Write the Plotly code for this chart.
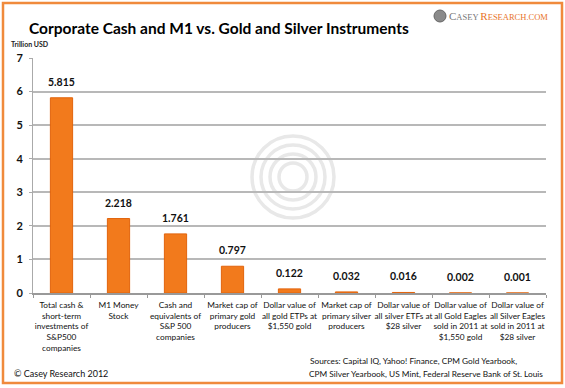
import plotly.graph_objects as go

categories = [
    "Total cash &amp;<br>short-term<br>investments of<br>S&amp;P500<br>companies",
    "M1 Money<br>Stock",
    "Cash and<br>equivalents of<br>S&amp;P 500<br>companies",
    "Market cap of<br>primary gold<br>producers",
    "Dollar value of<br>all gold ETPs at<br>$1,550 gold",
    "Market cap of<br>primary silver<br>producers",
    "Dollar value of<br>all silver ETFs at<br>$28 silver",
    "Dollar value of<br>all Gold Eagles<br>sold in 2011 at<br>$1,550 gold",
    "Dollar value of<br>all Silver Eagles<br>sold in 2011 at<br>$28 silver",
]
values = [5.815, 2.218, 1.761, 0.797, 0.122, 0.032, 0.016, 0.002, 0.001]
value_labels = ["5.815", "2.218", "1.761", "0.797", "0.122", "0.032", "0.016", "0.002", "0.001"]
y_ticks = [0, 1, 2, 3, 4, 5, 6, 7]
source_lines = [
    "Sources: Capital IQ, Yahoo! Finance, CPM Gold Yearbook,",
    "CPM Silver Yearbook, US Mint, Federal Reserve Bank of St. Louis",
]

W, H = 565, 388
L, R, T, B = 33, 19, 58, 95
pw, ph = W - L - R, H - T - B

def px(x):
    return (x - L) / pw

def py(y):
    return (H - B - y) / ph

FONT = "Lato"

fig = go.Figure()
fig.add_trace(go.Bar(
    x=list(range(len(categories))),
    y=values,
    marker=dict(color="#f27a1c", line=dict(color="#e2640c", width=1)),
    hoverinfo="skip",
))

annotations = []
for i, (v, t) in enumerate(zip(values, value_labels)):
    annotations.append(dict(x=i, y=v, xref="x", yref="y", text="<b>%s</b>" % t,
                            showarrow=False, yanchor="bottom", yshift=8,
                            font=dict(family=FONT, size=10.5, color="#111")))

annotations += [
    dict(x=px(219), y=py(28), xref="paper", yref="paper",
         text="<b>Corporate Cash and M1 vs. Gold and Silver Instruments</b>",
         showarrow=False, xanchor="center", yanchor="middle",
         font=dict(family=FONT, size=15.5, color="#000")),
    dict(x=px(9), y=py(44), xref="paper", yref="paper", text="<b>Trillion USD</b>",
         showarrow=False, xanchor="left", yanchor="middle",
         font=dict(family=FONT, size=7, color="#222")),
    dict(x=px(12), y=py(373), xref="paper", yref="paper", text="© Casey Research 2012",
         showarrow=False, xanchor="left", yanchor="middle",
         font=dict(family=FONT, size=9, color="#111")),
    dict(x=px(447), y=py(16), xref="paper", yref="paper",
         text="<span style='color:#777'><span style='font-size:11px'>C</span>ASEY</span> <span style='color:#e8742a'><span style='font-size:11px'>R</span>ESEARCH.COM</span>",
         showarrow=False, xanchor="left", yanchor="middle",
         font=dict(family="Liberation Serif", size=8.5, color="#777")),
]
for k, line in enumerate(source_lines):
    annotations.append(dict(x=px(307 if k else 308), y=py(361 + 13 * k), xref="paper", yref="paper",
                            text=line, showarrow=False, xanchor="left", yanchor="middle",
                            font=dict(family=FONT, size=8.3, color="#111")))

shapes = [
    dict(type="rect", xref="paper", yref="paper", x0=px(3), x1=px(562), y0=py(383), y1=py(3),
         line=dict(color="#f08a3c", width=2.5), fillcolor="rgba(0,0,0,0)", layer="above"),
    dict(type="circle", xref="paper", yref="paper", xsizemode="pixel", ysizemode="pixel",
         xanchor=px(440), yanchor=py(16), x0=-6, x1=6, y0=-6, y1=6,
         fillcolor="#8a8a8a", line=dict(color="#666", width=1)),
]
for r in [41, 32, 23, 14]:
    shapes.append(dict(type="circle", xref="paper", yref="paper", xsizemode="pixel", ysizemode="pixel",
                       xanchor=px(293), yanchor=py(177), x0=-r, x1=r, y0=-r, y1=r,
                       line=dict(color="#e8e8e8", width=3.5), layer="below"))

fig.update_layout(
    width=W, height=H,
    margin=dict(l=L, r=R, t=T, b=B, pad=0),
    paper_bgcolor="white", plot_bgcolor="rgba(0,0,0,0)",
    showlegend=False,
    bargap=0.61,
    annotations=annotations,
    shapes=shapes,
    xaxis=dict(
        type="category", tickmode="array",
        tickvals=list(range(len(categories))), ticktext=categories,
        tickson="boundaries", ticks="outside", ticklen=3, tickcolor="#999",
        showline=True, linecolor="#999", linewidth=1.5,
        showgrid=False, tickangle=0,
        ticklabelstandoff=3,
        tickfont=dict(family=FONT, size=8.3, color="#111"),
        range=[-0.5, len(categories) - 0.5],
    ),
    yaxis=dict(
        range=[0, 7], tickvals=y_ticks, ticktext=["<b>%d</b>" % v for v in y_ticks],
        showgrid=True, gridcolor="#b8b8b8", gridwidth=1.5,
        showline=True, linecolor="#aaa", linewidth=1,
        ticks="outside", ticklen=3, tickcolor="#aaa",
        ticklabelstandoff=4,
        zeroline=False,
        tickfont=dict(family=FONT, size=11, color="#111"),
    ),
)

fig.write_html("out.html", config={"displayModeBar": False},
               post_script="document.body.style.margin='0';document.body.style.padding='0';")
